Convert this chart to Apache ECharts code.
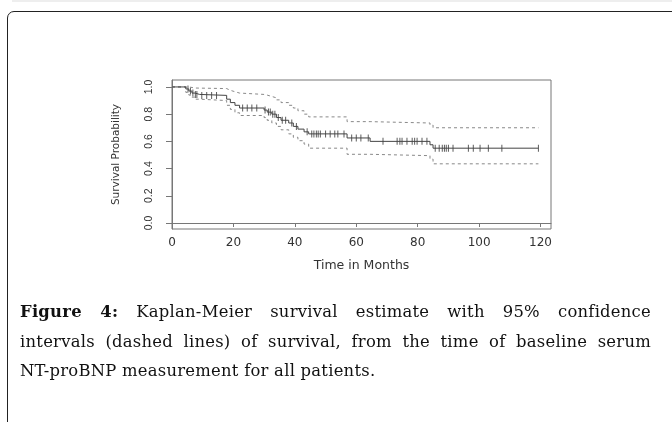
<!DOCTYPE html>
<html>
<head>
<meta charset="utf-8">
<script src="https://cdn.jsdelivr.net/npm/echarts@6/dist/echarts.min.js"></script>
<style>
    html, body { margin: 0; padding: 0; background: #fff; }
    #page { position: relative; width: 672px; height: 422px; overflow: hidden; }
    #topline { position: absolute; left: 12px; top: 0; width: 660px; height: 2px; background: #eeeeee; }
    #card { position: absolute; left: 7px; top: 11px; width: 700px; height: 450px;
            border: 1.5px solid #222; border-radius: 7px; box-sizing: border-box; }
    #km { position: absolute; left: 0; top: 0; width: 672px; height: 422px; }
    #caption { position: absolute; left: 20px; top: 297px; width: 631px;
               font-family: "DejaVu Serif", "Liberation Serif", serif; font-size: 16.4px;
               letter-spacing: 0.25px; line-height: 29.5px; color: #111; }
    #caption div { text-align: justify; text-align-last: justify; white-space: nowrap; }
    #caption div.last { text-align: left; text-align-last: left; }
    #caption b { font-weight: bold; }
</style>
</head>
<body>
<div id="page">
    <div id="topline"></div>
    <div id="card"></div>
    <div id="km"></div>
    <div id="caption">
        <div><b>Figure 4:</b> Kaplan-Meier survival estimate with 95% confidence</div>
        <div>intervals (dashed lines) of survival, from the time of baseline serum</div>
        <div class="last">NT-proBNP measurement for all patients.</div>
    </div>
</div>
<script>
// Kaplan-Meier estimate (step times and survival after each step)
var kmTime = [0, 4.5, 5.5, 6.5, 7.5, 9, 17.8, 19, 20.5, 22, 30, 31, 32.5, 34, 35.5, 38, 39.5, 41, 43, 44.5, 57, 64.5, 84, 85, 119.3];
var kmSurv = [1, 0.985, 0.97, 0.955, 0.945, 0.938, 0.91, 0.885, 0.865, 0.845, 0.83, 0.815, 0.8, 0.775, 0.755, 0.735, 0.71, 0.69, 0.67, 0.655, 0.625, 0.6, 0.575, 0.55, 0.55];

// 95% confidence limits
var upTime = [0, 4.5, 6, 7.5, 17.8, 19, 20.5, 22, 30, 31, 32.5, 34, 35.5, 38, 39.5, 41, 43, 44.5, 57, 64.5, 84, 85, 119.3];
var upSurv = [1, 0.998, 0.992, 0.988, 0.975, 0.965, 0.955, 0.945, 0.94, 0.93, 0.92, 0.905, 0.885, 0.865, 0.845, 0.825, 0.8, 0.78, 0.745, 0.735, 0.72, 0.7, 0.7];
var loTime = [0, 4.5, 5.5, 6.5, 7.5, 9, 17.8, 19, 20.5, 22, 30, 31, 32.5, 34, 35.5, 38, 39.5, 41, 43, 44.5, 57, 64.5, 84, 85, 119.3];
var loSurv = [1, 0.96, 0.94, 0.925, 0.91, 0.9, 0.865, 0.835, 0.81, 0.79, 0.775, 0.755, 0.735, 0.71, 0.685, 0.655, 0.63, 0.605, 0.58, 0.55, 0.505, 0.495, 0.47, 0.435, 0.435];

// censored observations (months)
var censorTime = [5.2, 6, 6.8, 7.6, 8.1, 9.7, 11.3, 12.9, 14.5, 23, 24.5, 26, 27.6,
    30.3, 31.4, 32, 32.8, 33.5, 34.6, 35.9, 37, 39, 40.5, 44, 45.5, 46.2, 47, 47.6, 48.3,
    50, 51.5, 53, 54, 56, 58.5, 60, 61.5, 63.9, 68.7, 73.3, 74.2, 74.9, 76.5, 78.2, 79, 79.8,
    81.4, 83, 85.7, 87, 88, 88.7, 89.3, 90, 91.5, 96.5, 98.1, 100.3, 103, 107.4, 119.3];

var xTicks = [0, 20, 40, 60, 80, 100, 120];
var yTicks = [0, 0.2, 0.4, 0.6, 0.8, 1.0];

function pairs(xs, ys) {
    var out = [];
    for (var i = 0; i < xs.length; i++) out.push([xs[i], ys[i]]);
    return out;
}

function survAt(t) {
    var s = kmSurv[0];
    for (var i = 0; i < kmTime.length; i++) {
        if (kmTime[i] <= t) s = kmSurv[i];
    }
    return s;
}

var censorData = censorTime.map(function (t) { return [t, survAt(t)]; });

var axisColor = '#777';
var textColor = '#333';

var myChart = echarts.init(document.getElementById('km'));
var option = {
    animation: false,
    grid: {
        left: 172,
        top: 80,
        right: 121,
        bottom: 193,
        show: true,
        borderColor: axisColor,
        borderWidth: 1
    },
    xAxis: {
        type: 'value',
        min: 0,
        max: 123.4,
        splitLine: { show: false },
        axisLine: { show: true, lineStyle: { color: axisColor } },
        axisTick: { show: true, length: 4, customValues: xTicks, lineStyle: { color: axisColor } },
        axisLabel: {
            customValues: xTicks,
            margin: 8,
            fontFamily: 'DejaVu Sans',
            fontSize: 12,
            color: textColor
        },
        name: 'Time in Months',
        nameLocation: 'middle',
        nameGap: 30,
        nameTextStyle: { fontFamily: 'DejaVu Sans', fontSize: 12.5, color: textColor }
    },
    yAxis: {
        type: 'value',
        min: -0.044,
        max: 1.051,
        splitLine: { show: false },
        axisLine: { show: true, lineStyle: { color: axisColor } },
        axisTick: { show: true, length: 6, customValues: yTicks, lineStyle: { color: axisColor } },
        axisLabel: {
            customValues: yTicks,
            rotate: 90,
            margin: 17,
            fontFamily: 'Liberation Sans',
            fontSize: 10.5,
            color: textColor,
            formatter: function (v) { return v.toFixed(1); }
        },
        name: 'Survival Probability',
        nameLocation: 'middle',
        nameRotate: 90,
        nameGap: 50,
        nameTextStyle: { fontFamily: 'DejaVu Sans', fontSize: 10.5, color: textColor }
    },
    series: [
        {
            name: 'Upper 95% CI',
            type: 'line',
            step: 'end',
            symbol: 'none',
            lineStyle: { color: '#888', width: 1, type: [3, 3] },
            data: pairs(upTime, upSurv)
        },
        {
            name: 'Lower 95% CI',
            type: 'line',
            step: 'end',
            symbol: 'none',
            lineStyle: { color: '#888', width: 1, type: [3, 3] },
            data: pairs(loTime, loSurv)
        },
        {
            name: 'Survival',
            type: 'line',
            step: 'end',
            symbol: 'none',
            lineStyle: { color: '#444', width: 1 },
            data: pairs(kmTime, kmSurv)
        },
        {
            name: 'Censored',
            type: 'scatter',
            symbol: 'rect',
            symbolSize: [1, 7],
            itemStyle: { color: '#333' },
            data: censorData
        }
    ]
};
if (option && typeof option === "object") {
    myChart.setOption(option, true);
}
</script>
</body>
</html>
